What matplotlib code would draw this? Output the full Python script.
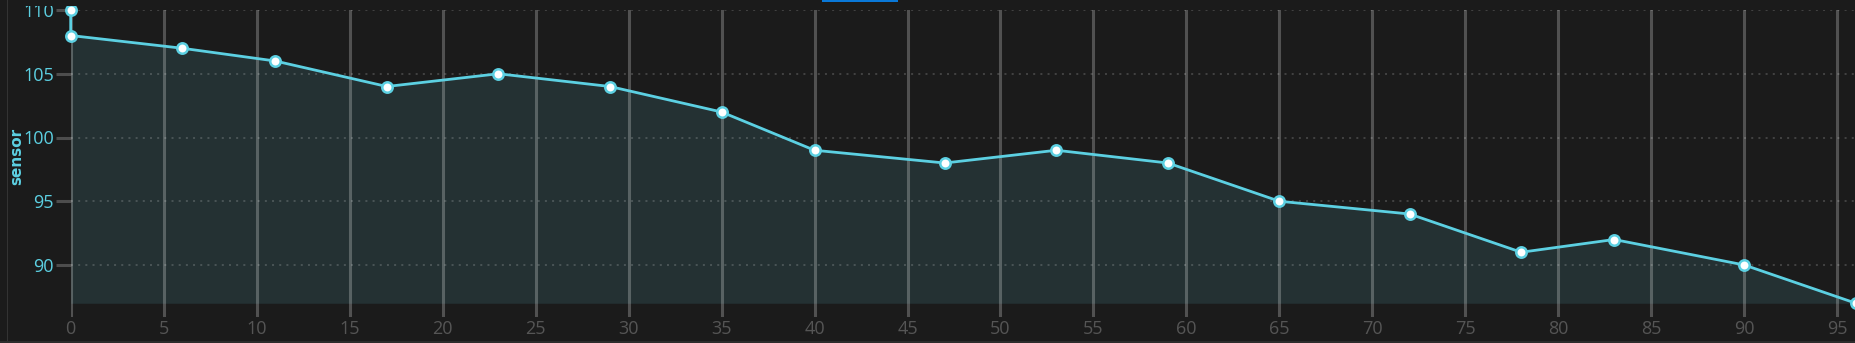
import matplotlib
matplotlib.use("Agg")
import matplotlib.pyplot as plt
from matplotlib.patches import Rectangle

# readings of the "sensor" series (x = sample index)
idx = [0, 0, 6, 11, 17, 23, 29, 35, 40, 47, 53, 59, 65, 72, 78, 83, 90, 96]
sensor = [110, 108, 107, 106, 104, 105, 104, 102, 99, 98, 99, 98, 95, 94, 91, 92, 90, 87]
xticks = list(range(0, 100, 5))
yticks = [90, 95, 100, 105, 110]

bg = "#1b1b1b"
line_c = "#5cd0e2"
fill_c = "#243133"

plt.rcParams['font.family'] = ['Open Sans', 'DejaVu Sans']

W, H = 1855, 343
fig = plt.figure(figsize=(W / 100, H / 100), dpi=100)
fig.patch.set_facecolor(bg)

# axes box in pixels: x 0..96 from 70.7 px, y 85.9..110 from top 10 px
x0 = 70.7
pxu_x = 18.596
y_top = 10.0
pxu_y = 12.75
ylo, yhi = 85.9, 110
ax_h = (yhi - ylo) * pxu_y
ax_w = 96 * pxu_x
ax = fig.add_axes([x0 / W, 1 - (y_top + ax_h) / H, ax_w / W, ax_h / H])
ax.set_facecolor(bg)
ax.set_xlim(0, 96)
ax.set_ylim(ylo, yhi)

for s in ax.spines.values():
    s.set_visible(False)

ax.fill_between(idx, sensor, min(sensor), color=fill_c, lw=0, zorder=1)

for xv in xticks:
    ax.axvline(xv, color="white", alpha=0.24, lw=2.2, zorder=2)
for yv in yticks:
    ax.axhline(yv, color="white", alpha=0.22, lw=1.1, ls=(0, (1.3, 3.4)), zorder=2)

ax.plot(idx, sensor, color=line_c, lw=2, marker="o", ms=7.5,
        mfc="white", mec=line_c, mew=1.8, zorder=3, clip_on=False)

ax.set_xticks(xticks)
ax.set_yticks(yticks)
ax.tick_params(axis="x", length=0, pad=2, labelsize=13, labelcolor="#555555")
ax.tick_params(axis="y", length=11, width=2.2, color="#4d4d4d", pad=1,
               labelsize=13, labelcolor=line_c)
ax.set_ylabel("sensor", color=line_c, fontweight="bold", fontsize=11,
              family=['DejaVu Sans'])
ax.yaxis.set_label_coords(-(x0 - 24) / ax_w, (y_top + ax_h - 156) / ax_h)

# panel borders, header cover and the blue marker strip at the top
fig.patches.append(Rectangle((7 / W, 0), 1 / W, 1, transform=fig.transFigure,
                             color="#333333", lw=0))
fig.patches.append(Rectangle((0, 0), 1, 2.5 / H, transform=fig.transFigure,
                             color="#2c2c2c", lw=0))
fig.patches.append(Rectangle((8 / W, 1 - 5.5 / H), 1, 5.5 / H, transform=fig.transFigure,
                             color=bg, lw=0, zorder=10))
fig.patches.append(Rectangle((822 / W, 1 - 2 / H), 76 / W, 2 / H,
                             transform=fig.transFigure, color="#0a78d8", lw=0, zorder=11))

fig.savefig("out.png", dpi=100, facecolor=bg)
